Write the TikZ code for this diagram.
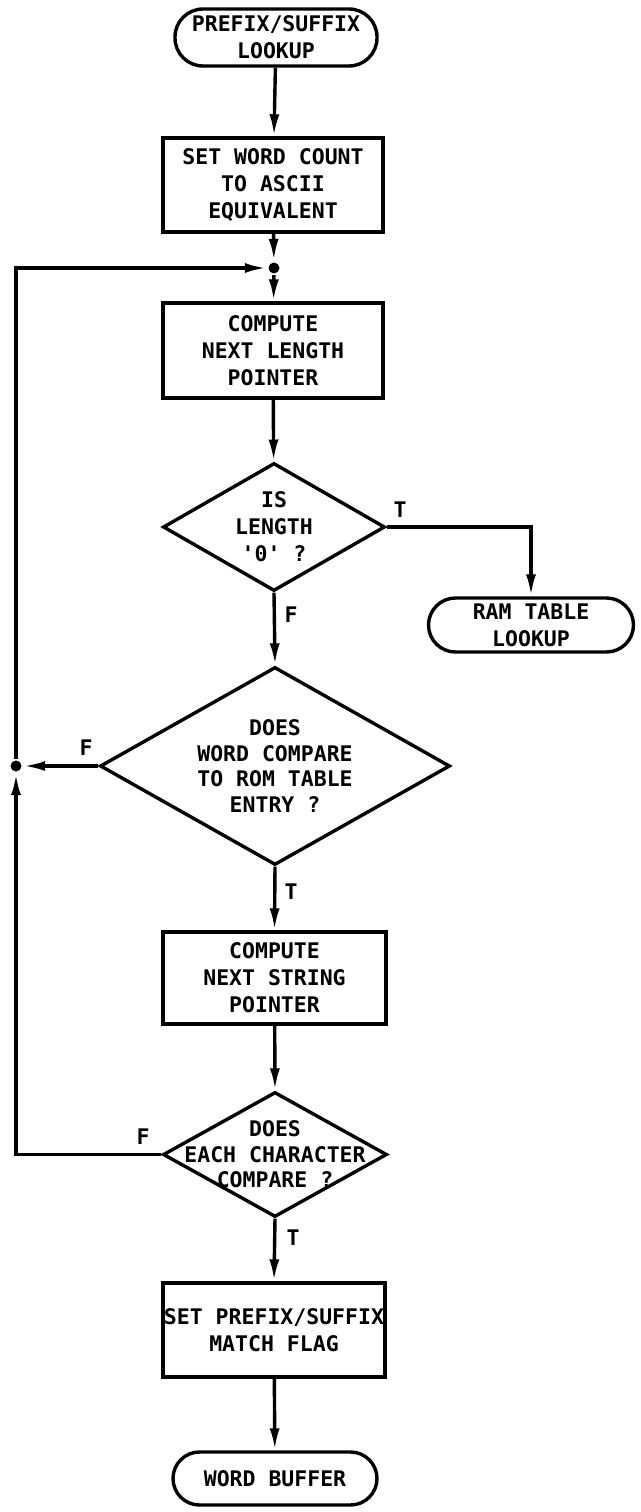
\documentclass[tikz,border=0pt]{standalone}
\usepackage{fontspec}
\newfontfamily\lettering{DejaVu Sans Mono}
\usetikzlibrary{shapes.geometric,arrows.meta}
\begin{document}
\begin{tikzpicture}[x=1pt,y=-1pt,
  line width=3.4pt,
  every node/.style={font=\lettering\bfseries\fontsize{21.5}{27}\selectfont, align=center},
  term/.style={draw, inner sep=0pt},
  proc/.style={draw, inner sep=0pt},
  dec/.style={draw, diamond, inner sep=0pt},
  lbl/.style={inner sep=0pt},
  dot/.style={circle, fill, inner sep=0pt, minimum size=11pt},
  flow/.style={-{Latex[length=22pt,width=10pt]}}
  ]
\useasboundingbox (0,0) rectangle (640,1512);
% nodes
\node[term, minimum width=202pt, minimum height=57pt, rounded corners=28pt] (start) at (276,37.5) {PREFIX/SUFFIX\\LOOKUP};
\node[proc, minimum width=220pt, minimum height=94pt] (b1) at (273,185) {SET WORD COUNT\\TO ASCII\\EQUIVALENT};
\node[dot] (j1) at (274,268) {};
\node[proc, minimum width=220pt, minimum height=95pt] (b2) at (273,350.5) {COMPUTE\\NEXT LENGTH\\POINTER};
\node[dec, minimum width=222pt, minimum height=128pt] (d1) at (274,527) {};
\node at (d1.center) (d1t) {IS\\LENGTH\\'0' ?};
\node[term, minimum width=205pt, minimum height=54pt, rounded corners=27pt] (ram) at (531,625) {RAM TABLE\\LOOKUP};
\node[dec, minimum width=350pt, minimum height=198pt] (d2) at (275,766) {};
\node[font=\lettering\bfseries\fontsize{21.5}{25.5}\selectfont] at (d2.center) (d2t) {DOES\\WORD COMPARE\\TO ROM TABLE\\ENTRY ?};
\node[dot] (j2) at (16,766) {};
\node[proc, minimum width=223pt, minimum height=92pt] (b3) at (274.5,978) {COMPUTE\\NEXT STRING\\POINTER};
\node[dec, minimum width=224pt, minimum height=125pt] (d3) at (275,1154.5) {};
\node[font=\lettering\bfseries\fontsize{21.5}{25.5}\selectfont] at (d3.center) (d3t) {DOES\\EACH CHARACTER\\COMPARE ?};
\node[proc, minimum width=222pt, minimum height=94pt] (b4) at (274,1330) {SET PREFIX/SUFFIX\\MATCH FLAG};
\node[term, minimum width=204pt, minimum height=53pt, rounded corners=26.5pt] (wb) at (275,1478.5) {WORD BUFFER};
% corner coordinates
\coordinate (ctl) at (16,268);
\coordinate (cbl) at (16,1154.5);
\coordinate (cram) at (531,527);
% labels
\node[lbl] (t1) at (400,510) {T};
\node[lbl] (f1) at (291,615) {F};
\node[lbl] (f2) at (86,748) {F};
\node[lbl] (t2) at (291,892) {T};
\node[lbl] (f3) at (143,1137) {F};
\node[lbl] (t3) at (293,1238) {T};
% connectors
\draw[flow] (start) -- (b1);
\draw[flow] (b1) -- (j1);
\draw[flow] (j1) -- (b2);
\draw[flow] (b2) -- (d1);
\draw[flow] (d1.east) -- (cram) -- (ram.north);
\draw[flow] (d1.south) -- (d2.north);
\draw[flow] (d2.west) -- (j2);
\draw[flow] (d2.south) -- (b3.north);
\draw[flow] (b3) -- (d3.north);
\draw[flow] (d3.west) -- (cbl) -- (j2);
\draw[flow] (j2) -- (ctl) -- (j1);
\draw[flow] (d3.south) -- (b4.north);
\draw[flow] (b4) -- (wb);
\end{tikzpicture}
\end{document}
